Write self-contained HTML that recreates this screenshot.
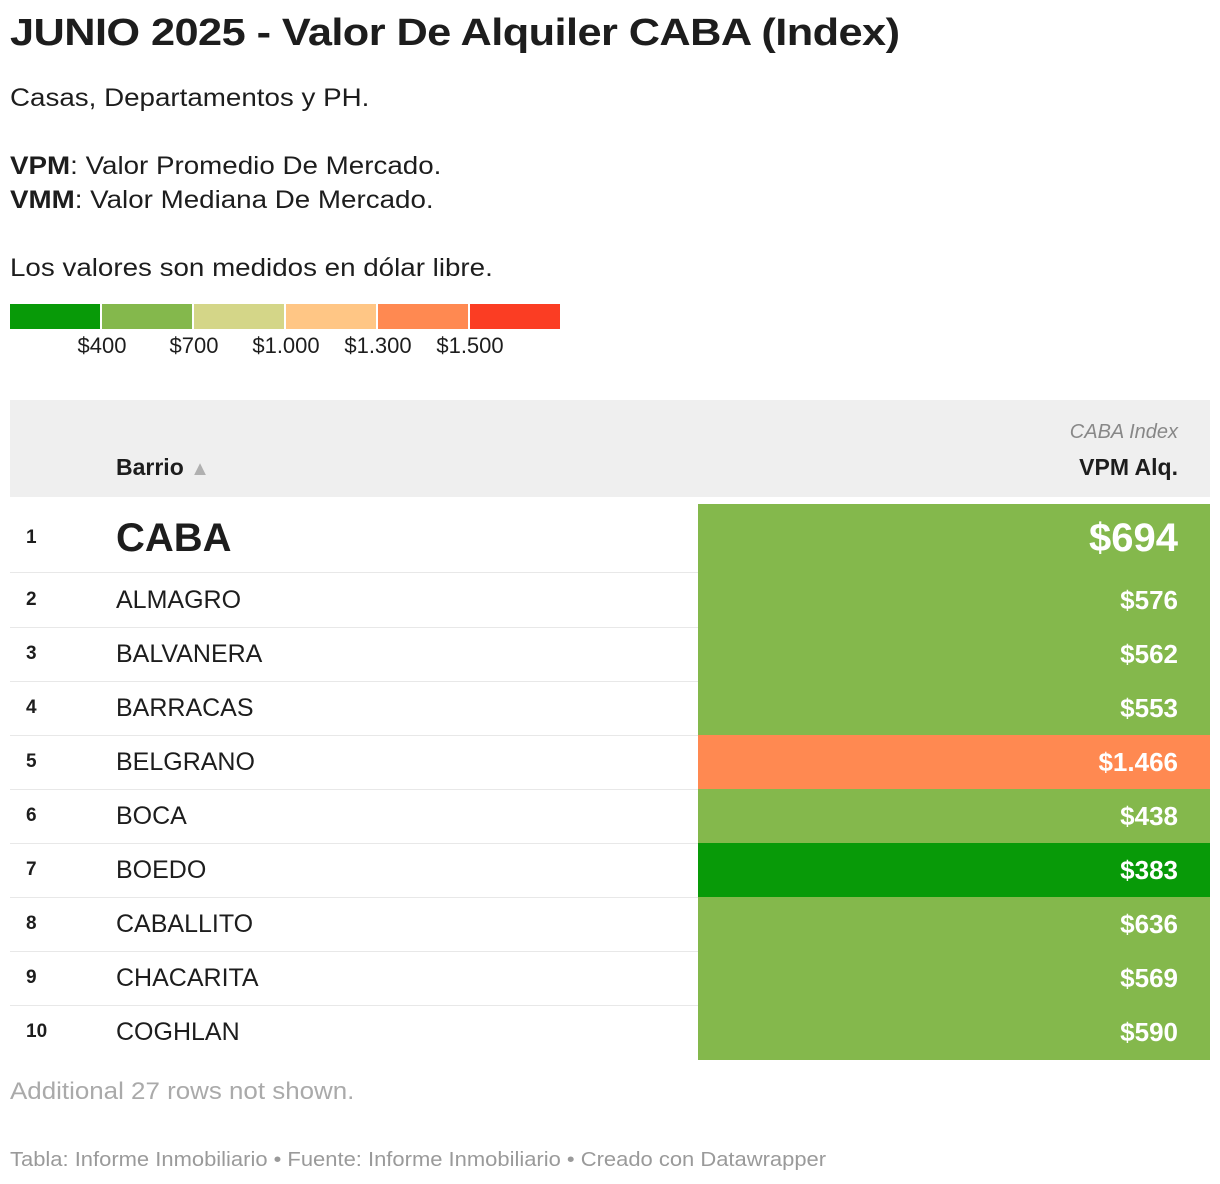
<!DOCTYPE html>
<html><head><meta charset="utf-8">
<style>
body{margin:0;width:1220px;height:1184px;background:#fff;font-family:"Liberation Sans",sans-serif;color:#1d1d1d;position:relative;overflow:hidden}
.abs{position:absolute;white-space:nowrap}
</style></head><body>
<div class="abs" style="left:10px;top:12px;font-size:38px;font-weight:bold;letter-spacing:-0.5px;transform:scaleX(1.14);transform-origin:left">JUNIO 2025 - Valor De Alquiler CABA (Index)</div>
<div class="abs" style="left:10px;top:81px;font-size:25px;line-height:34px;transform:scaleX(1.11);transform-origin:left">Casas, Departamentos y PH.<br><br><b>VPM</b>: Valor Promedio De Mercado.<br><b>VMM</b>: Valor Mediana De Mercado.<br><br>Los valores son medidos en dólar libre.</div>
<div id="legend"></div>
<div class="abs" style="left:10px;top:400px;width:1200px;height:97px;background:#efefef"></div>
<div class="abs" style="left:116px;top:454px;font-size:23px;font-weight:bold">Barrio <span style="color:#b0b0b0;font-size:20px">▲</span></div>
<div class="abs" style="right:42px;top:421px;font-size:20px;font-style:italic;color:#888">CABA Index</div>
<div class="abs" style="right:42px;top:454px;font-size:23px;font-weight:bold">VPM Alq.</div>
<div id="rows"></div>
<div class="abs" style="left:10px;top:1078px;font-size:24px;color:#aaa;transform:scaleX(1.08);transform-origin:left">Additional 27 rows not shown.</div>
<div class="abs" style="left:10px;top:1149px;font-size:20px;color:#9a9a9a;transform:scaleX(1.098);transform-origin:left">Tabla: Informe Inmobiliario • Fuente: Informe Inmobiliario • Creado con Datawrapper</div>
<script>
const barrios=["CABA","ALMAGRO","BALVANERA","BARRACAS","BELGRANO","BOCA","BOEDO","CABALLITO","CHACARITA","COGHLAN"];
const values=[694,576,562,553,1466,438,383,636,569,590];
const thresholds=[400,700,1000,1300,1500];
const tickLabels=["$400","$700","$1.000","$1.300","$1.500"];
const colors=["#089a08","#84b84c","#d4d688","#ffc685","#ff8951","#fb3d23"];
function colorFor(v){let i=0;while(i<thresholds.length&&v>=thresholds[i])i++;return colors[i];}
function fmt(v){return "$"+String(v).replace(/\B(?=(\d{3})+(?!\d))/g,".");}
const lg=document.getElementById('legend');
colors.forEach((c,i)=>{const d=document.createElement('div');d.className='abs';


d.style.cssText=`left:${10+i*92}px;top:304px;width:90px;height:25px;background:${c}`;lg.appendChild(d);});
tickLabels.forEach((t,i)=>{const d=document.createElement('div');d.className='abs';


d.style.cssText=`left:${102+i*92-50}px;width:100px;text-align:center;top:333px;font-size:22px`;d.textContent=t;lg.appendChild(d);});
const rw=document.getElementById('rows');
barrios.forEach((b,i)=>{
 const top=i===0?504:573+(i-1)*54, h=i===0?68:54, first=i===0;
 const r=document.createElement('div');r.className='abs';
 
 
 r.style.cssText=`left:10px;top:${top}px;width:1200px;height:${h}px;border-bottom:${i<9?'1px solid #e8e8e8':'none'}`;
 const n=document.createElement('div');n.className='abs';
 
 
 n.style.cssText=`left:16px;top:0;line-height:${h}px;font-size:19px;font-weight:bold`;n.textContent=i+1;r.appendChild(n);
 const nm=document.createElement('div');nm.className='abs';
 
 
 nm.style.cssText=`left:106px;top:0;line-height:${h}px;font-size:${first?40:25}px;${first?'font-weight:bold':''}`;nm.textContent=b;r.appendChild(nm);
 const c=document.createElement('div');c.className='abs';
 
 
 c.style.cssText=`left:688px;top:0;width:512px;height:${h+1}px;background:${colorFor(values[i])};color:#fff;font-weight:bold;text-align:right;box-sizing:border-box;padding-right:32px;line-height:${h}px;font-size:${first?40:26}px`;
 c.textContent=fmt(values[i]);r.appendChild(c);
 rw.appendChild(r);
});
</script>
</body></html>
